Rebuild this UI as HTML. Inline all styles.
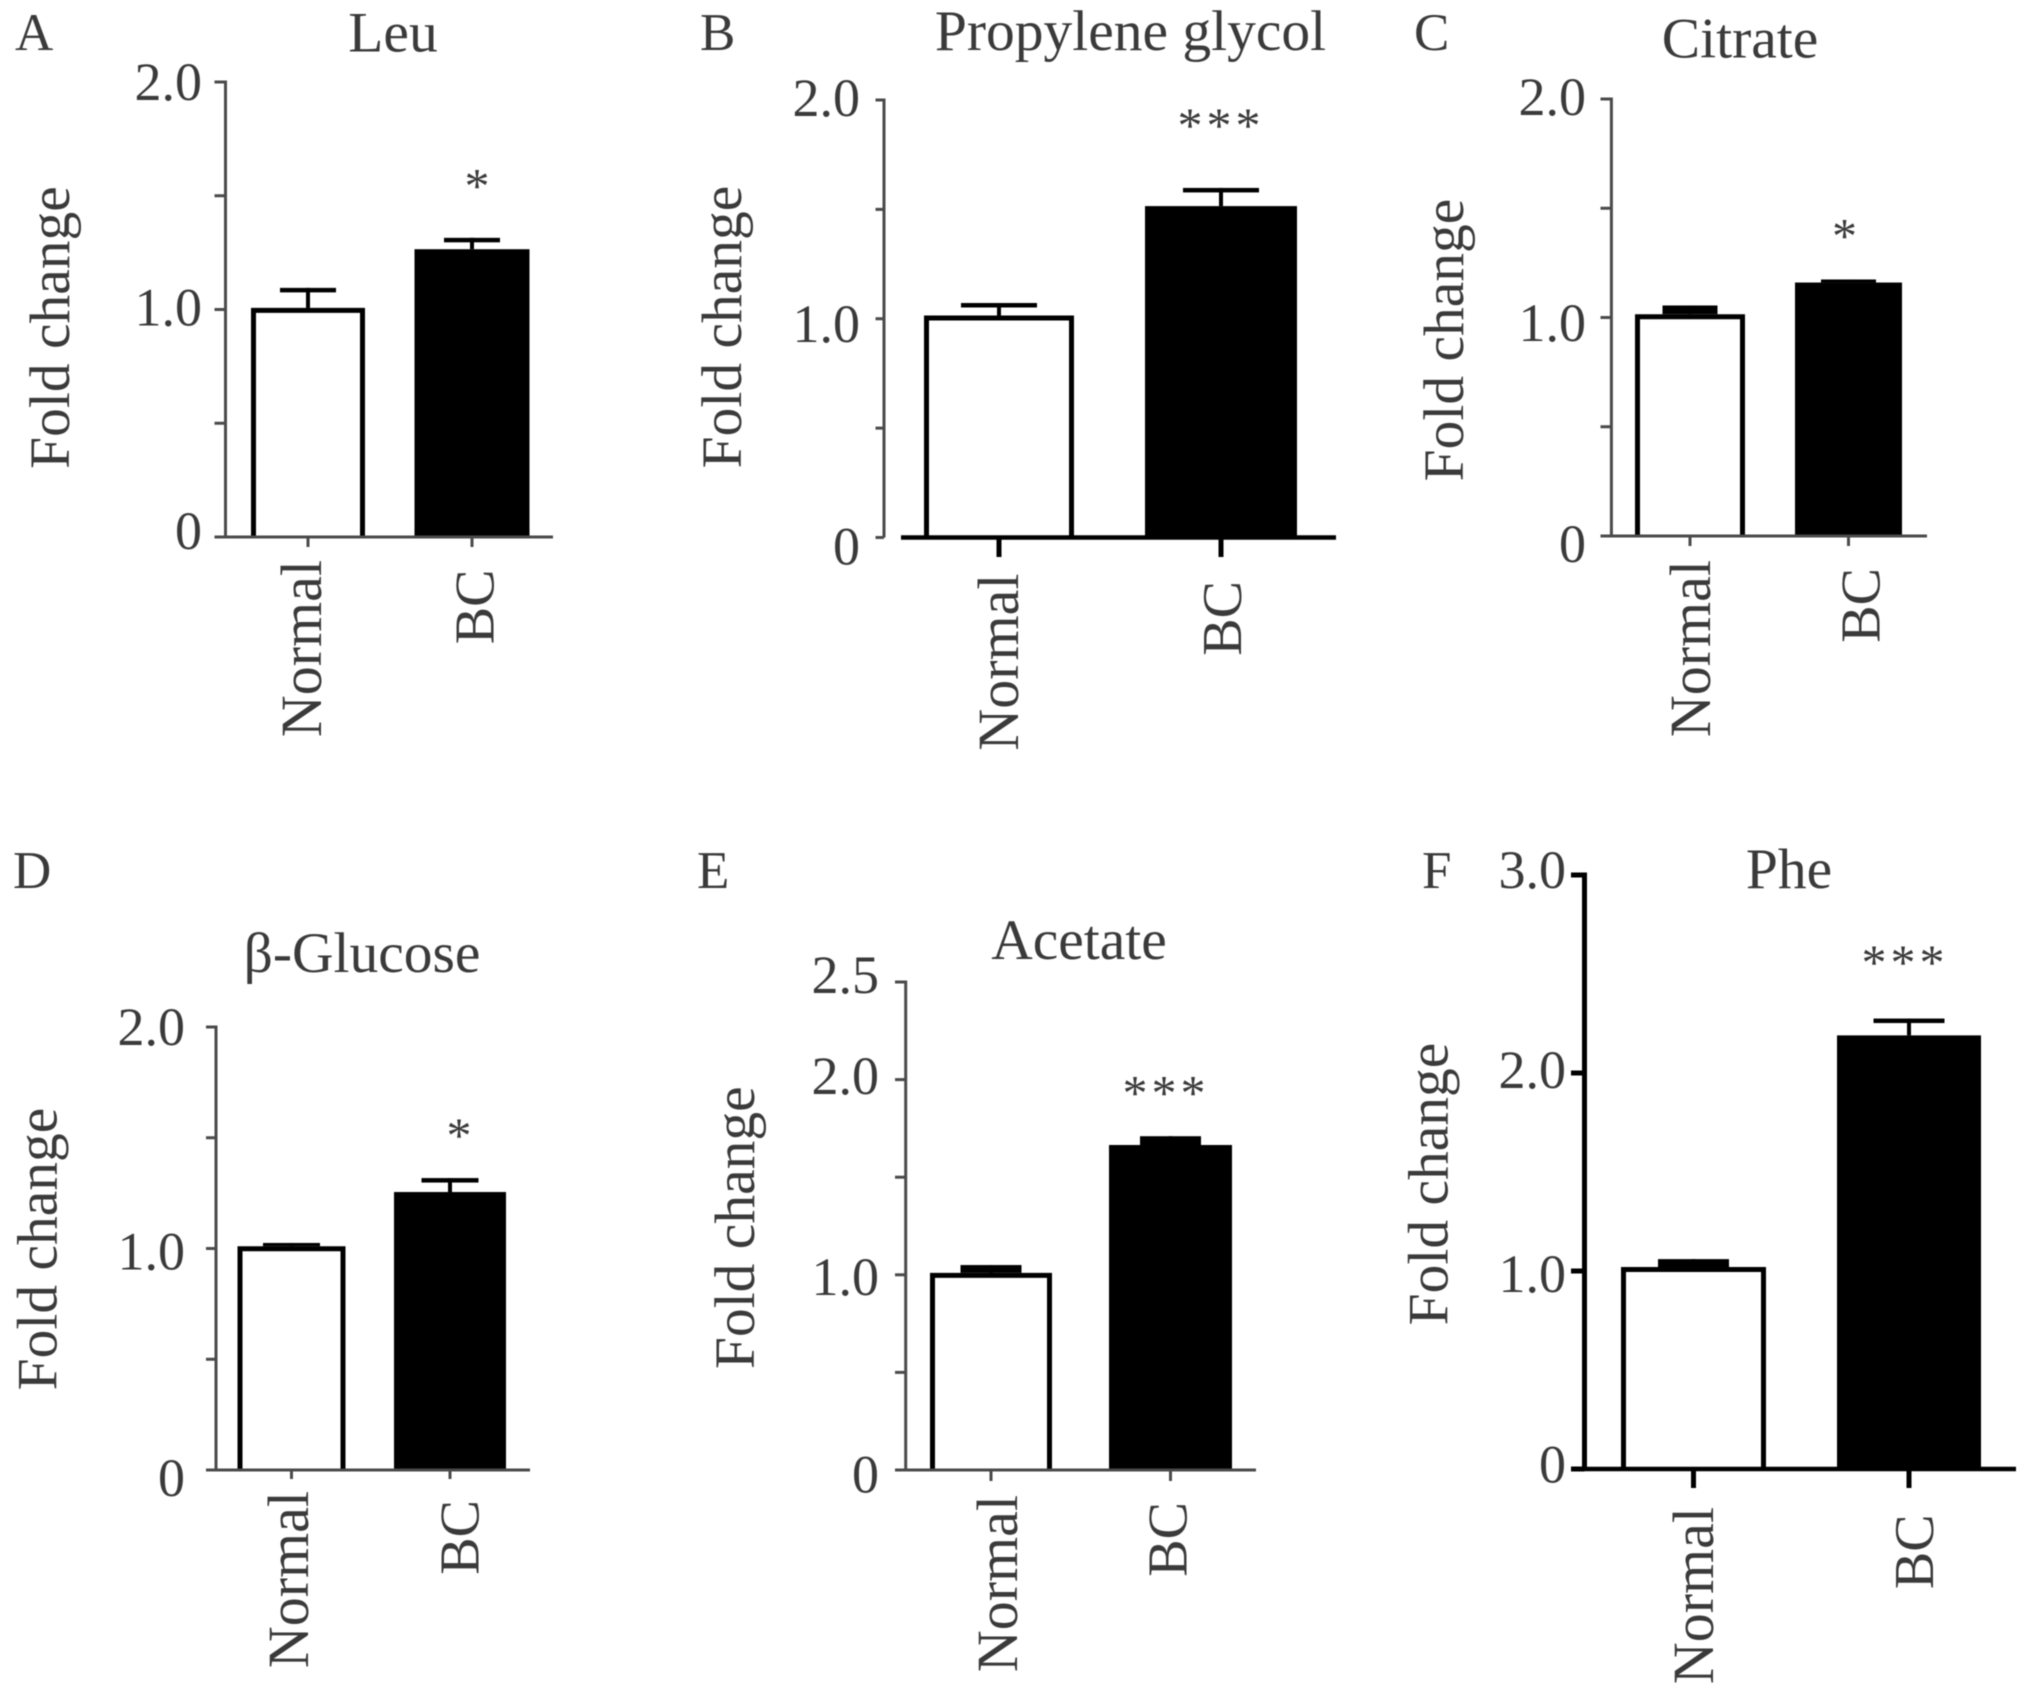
<!DOCTYPE html>
<html lang="en">
<head>
<meta charset="utf-8">
<title>Fold change bar charts</title>
<style>
html,body{margin:0;padding:0;background:#fff;}
svg{display:block;filter:blur(0.6px);}
text{font-family:"Liberation Serif",serif;fill:#3a3a3a;}
</style>
</head>
<body>
<svg id="figure" xmlns="http://www.w3.org/2000/svg" width="2031" height="1697" viewBox="0 0 2031 1697"></svg>
<script>
// ---- Data ----
const panelLetters = ["A", "B", "C", "D", "E", "F"];
const panelTitles = ["Leu", "Propylene glycol", "Citrate", "β-Glucose", "Acetate", "Phe"];
const categories = ["Normal", "BC"];
const yAxisTitle = "Fold change";
const normalMeans = [1.007, 1.015, 1.015, 1.01, 1.01, 1.02];
const bcMeans = [1.265, 1.515, 1.16, 1.255, 1.665, 2.19];
const normalErrors = [0.088, 0.057, 0.04, 0.015, 0.04, 0.04];
const bcErrors = [0.05, 0.083, 0.014, 0.063, 0.045, 0.085];
const yMaxima = [2, 2, 2, 2, 2.5, 3];
const yTickValues = [
  [0, 0.5, 1, 1.5, 2],
  [0, 0.5, 1, 1.5, 2],
  [0, 0.5, 1, 1.5, 2],
  [0, 0.5, 1, 1.5, 2],
  [0, 0.5, 1, 1.5, 2, 2.5],
  [0, 1, 2, 3]
];
const yTickLabels = [
  ["0", "", "1.0", "", "2.0"],
  ["0", "", "1.0", "", "2.0"],
  ["0", "", "1.0", "", "2.0"],
  ["0", "", "1.0", "", "2.0"],
  ["0", "", "1.0", "", "2.0", "2.5"],
  ["0", "1.0", "2.0", "3.0"]
];
const significance = ["*", "***", "*", "*", "***", "***"];

// ---- Layout (geometry and style only, no data) ----
const panelLayouts = [
  {axisX:225.5, top:82, base:537, xStart:218, xEnd:553, tickL:214.5, cx:[308,472], barW:[114,115], capW:56, tickEnd:547,
   yCol:"#4a4a4a", xCol:"#4a4a4a", yW:3, xW:3, xTickW:3, labelR:202, labelDy:[12,0,16,0,18],
   letterX:15, letterY:50, titleX:393, titleY:51.5, foldX:69, foldY:327.5,
   catX:[321,493.7], catY:[560,569.5], starX:477, starY:179.5},
  {axisX:884, top:100, base:537.5, xStart:901, xEnd:1336, tickL:875.5, cx:[999,1221], barW:[150,152], capW:76, tickEnd:557,
   yCol:"#4a4a4a", xCol:"#000", yW:3, xW:4.5, xTickW:5, labelR:860, labelDy:[27,0,23,0,16],
   letterX:700, letterY:50, titleX:1130.5, titleY:50, foldX:741, foldY:327,
   catX:[1018,1241], catY:[573.5,581], starX:1221, starY:119},
  {axisX:1611.4, top:99, base:536, xStart:1601, xEnd:1927, tickL:1600.5, cx:[1690,1848.5], barW:[110,107], capW:55, tickEnd:546,
   yCol:"#4a4a4a", xCol:"#4a4a4a", yW:3, xW:3, xTickW:3, labelR:1586, labelDy:[26,0,23.5,0,16],
   letterX:1414, letterY:50, titleX:1740, titleY:57.5, foldX:1463, foldY:340,
   catX:[1710,1879.4], catY:[560,568], starX:1844.5, starY:229.5},
  {axisX:216, top:1027, base:1470, xStart:206, xEnd:530, tickL:206, cx:[291.5,450], barW:[108,112], capW:57, tickEnd:1479,
   yCol:"#4a4a4a", xCol:"#4a4a4a", yW:3, xW:3, xTickW:3, labelR:185, labelDy:[26,0,21,0,18],
   letterX:13, letterY:888, titleX:362, titleY:972, foldX:56.5, foldY:1249,
   catX:[308,478.4], catY:[1491,1500], starX:459, starY:1129},
  {axisX:905.7, top:982, base:1470, xStart:895, xEnd:1256, tickL:895, cx:[991,1170.5], barW:[122,123], capW:61, tickEnd:1481,
   yCol:"#4a4a4a", xCol:"#4a4a4a", yW:3, xW:3, xTickW:3, labelR:879, labelDy:[22.5,0,20,0,14.6,11],
   letterX:697, letterY:888, titleX:1079, titleY:959, foldX:754, foldY:1227.7,
   catX:[1017,1186.4], catY:[1495,1502], starX:1166, starY:1086.5},
  {axisX:1584.5, top:875, base:1469, xStart:1571, xEnd:2016, tickL:1571, cx:[1693.5,1909], barW:[145,144], capW:71, tickEnd:1488,
   yCol:"#000", xCol:"#000", yW:5, xW:4.5, xTickW:5, labelR:1566, labelDy:[13.6,21,15,13],
   letterX:1422, letterY:888, titleX:1789, titleY:888, foldX:1447.5, foldY:1184,
   catX:[1713,1933], catY:[1507,1514.4], starX:1905, starY:956}
];
const categoryFontSizes = [58, 56];

const NS = "http://www.w3.org/2000/svg";
const svg = document.getElementById("figure");

function mk(tag, attrs, parent, content) {
  const el = document.createElementNS(NS, tag);
  for (const k in attrs) el.setAttribute(k, attrs[k]);
  if (content !== undefined) el.textContent = content;
  parent.appendChild(el);
  return el;
}

function makeYScale(maxValue, layout) {
  return function (v) {
    return layout.base - (v / maxValue) * (layout.base - layout.top);
  };
}

panelLayouts.forEach(function (L, i) {
  const y = makeYScale(yMaxima[i], L);
  const means = [normalMeans[i], bcMeans[i]];
  const errors = [normalErrors[i], bcErrors[i]];

  const panel = mk("g", {}, svg);
  
  

  const letter = mk("text", {x: L.letterX, y: L.letterY, "font-size": 53}, panel, panelLetters[i]);
  
  

  const title = mk("text", {x: L.titleX, y: L.titleY, "font-size": 57.5, "text-anchor": "middle"}, panel, panelTitles[i]);
  
  

  const fold = mk("text", {x: 0, y: 0, "font-size": 57.5, "text-anchor": "middle",
    transform: "translate(" + L.foldX + "," + L.foldY + ") rotate(-90)"}, panel, yAxisTitle);
  
  

  // bars, drawn first so the axes sit on top
  categories.forEach(function (cat, c) {
    const left = L.cx[c] - L.barW[c] / 2;
    const topY = y(means[c]);
    const errY = y(means[c] + errors[c]);
    const gap = topY - errY;
    const capH = gap < 10 ? gap : 4.5;

    const stem = mk("rect", {x: L.cx[c] - 2, y: errY, width: 4, height: gap, fill: "#000"}, panel);
    
    

    const cap = mk("rect", {x: L.cx[c] - L.capW / 2, y: errY, width: L.capW, height: capH, fill: "#000"}, panel);
    
    

    let bar;
    if (c === 0) {
      const sw = 5;
      const l = left + sw / 2;
      const r = left + L.barW[c] - sw / 2;
      const t = topY + sw / 2;
      bar = mk("path", {d: "M" + l + " " + L.base + "V" + t + "H" + r + "V" + L.base,
        fill: "#fff", stroke: "#000", "stroke-width": sw}, panel);
    } else {
      bar = mk("rect", {x: left, y: topY, width: L.barW[c], height: L.base - topY, fill: "#000"}, panel);
    }
    
    
  });

  // y axis
  const yAxis = mk("line", {x1: L.axisX, x2: L.axisX, y1: y(yMaxima[i]) - L.yW / 2, y2: L.base,
    stroke: L.yCol, "stroke-width": L.yW}, panel);
  
  

  yTickValues[i].forEach(function (v, t) {
    const tick = mk("line", {x1: L.tickL, x2: L.axisX, y1: y(v), y2: y(v),
      stroke: L.yCol, "stroke-width": L.yW}, panel);
    
    

    if (yTickLabels[i][t]) {
      const lab = mk("text", {x: L.labelR, y: y(v) + L.labelDy[t], "font-size": 54, "text-anchor": "end"}, panel, yTickLabels[i][t]);
      
      
    }
  });

  // x axis
  const xAxis = mk("line", {x1: L.xStart, x2: L.xEnd, y1: L.base, y2: L.base,
    stroke: L.xCol, "stroke-width": L.xW}, panel);
  
  

  categories.forEach(function (cat, c) {
    const tick = mk("line", {x1: L.cx[c], x2: L.cx[c], y1: L.base, y2: L.tickEnd,
      stroke: L.xCol, "stroke-width": L.xTickW}, panel);
    
    

    const lab = mk("text", {x: 0, y: 0, "font-size": categoryFontSizes[c], "text-anchor": "end",
      transform: "translate(" + L.catX[c] + "," + L.catY[c] + ") rotate(-90)"}, panel, cat);
    
    
  });

  const star = mk("text", {x: L.starX, y: L.starY + 23, "font-size": 50, "text-anchor": "middle",
    "letter-spacing": significance[i].length > 1 ? 4 : 0}, panel, significance[i]);
  
  
});
</script>
</body>
</html>
